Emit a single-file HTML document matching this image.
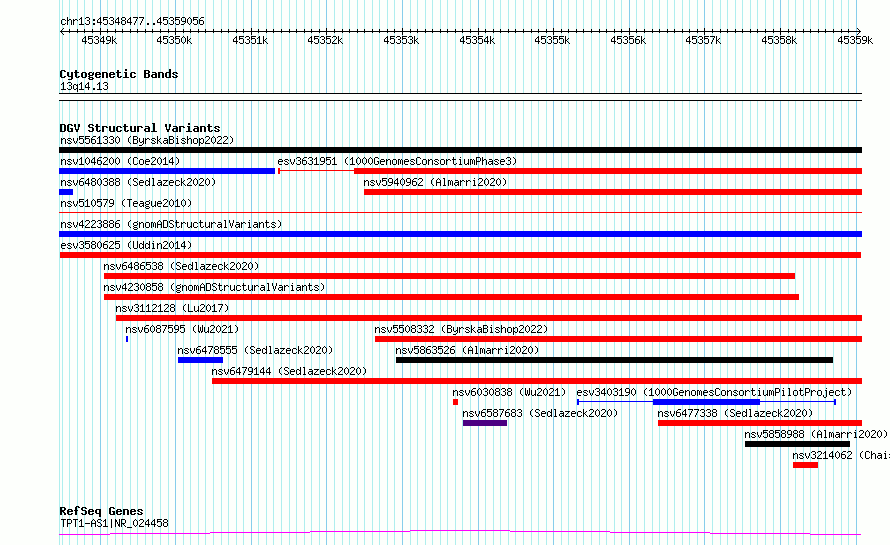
<!DOCTYPE html>
<html lang="en"><head><meta charset="utf-8"><title>chr13:45348477..45359056</title>
<style>
html,body{margin:0;padding:0;background:#fdfffc}
#panel{position:relative;width:890px;height:545px;overflow:hidden;background:#fdfffc}
#panel svg{position:absolute;left:0;top:0;display:block}
.t{position:absolute;white-space:pre;height:13px;line-height:13px;font-family:"Liberation Mono",monospace;font-size:10px;letter-spacing:0;color:transparent;overflow:hidden}
.t.b{font-size:11.66px;font-weight:bold}
</style></head><body>
<div id="panel">
<svg width="890" height="545" viewBox="0 0 890 545" shape-rendering="crispEdges">
<defs>
<path id="s40" d="M3 3h1v1h-1zM2 4h1v1h-1zM1 5h1v1h-1zM1 6h1v1h-1zM1 7h1v1h-1zM1 8h1v1h-1zM2 9h1v1h-1zM3 10h1v1h-1z"/>
<path id="s41" d="M1 3h1v1h-1zM2 4h1v1h-1zM3 5h1v1h-1zM3 6h1v1h-1zM3 7h1v1h-1zM3 8h1v1h-1zM2 9h1v1h-1zM1 10h1v1h-1z"/>
<path id="s45" d="M0 7h5v1h-5z"/>
<path id="s46" d="M2 9h2v1h-2zM2 10h2v1h-2z"/>
<path id="s48" d="M2 3h1v1h-1zM1 4h1v1h-1zM3 4h1v1h-1zM0 5h1v1h-1zM4 5h1v1h-1zM0 6h1v1h-1zM4 6h1v1h-1zM0 7h1v1h-1zM4 7h1v1h-1zM0 8h1v1h-1zM4 8h1v1h-1zM1 9h1v1h-1zM3 9h1v1h-1zM2 10h1v1h-1z"/>
<path id="s49" d="M2 3h1v1h-1zM1 4h2v1h-2zM0 5h1v1h-1zM2 5h1v1h-1zM2 6h1v1h-1zM2 7h1v1h-1zM2 8h1v1h-1zM2 9h1v1h-1zM0 10h5v1h-5z"/>
<path id="s50" d="M1 3h3v1h-3zM0 4h1v1h-1zM4 4h1v1h-1zM4 5h1v1h-1zM3 6h1v1h-1zM2 7h1v1h-1zM1 8h1v1h-1zM0 9h1v1h-1zM0 10h5v1h-5z"/>
<path id="s51" d="M1 3h3v1h-3zM0 4h1v1h-1zM4 4h1v1h-1zM4 5h1v1h-1zM2 6h2v1h-2zM4 7h1v1h-1zM4 8h1v1h-1zM0 9h1v1h-1zM4 9h1v1h-1zM1 10h3v1h-3z"/>
<path id="s52" d="M3 3h1v1h-1zM2 4h2v1h-2zM1 5h1v1h-1zM3 5h1v1h-1zM0 6h1v1h-1zM3 6h1v1h-1zM0 7h1v1h-1zM3 7h1v1h-1zM0 8h5v1h-5zM3 9h1v1h-1zM3 10h1v1h-1z"/>
<path id="s53" d="M0 3h5v1h-5zM0 4h1v1h-1zM0 5h4v1h-4zM0 6h1v1h-1zM4 6h1v1h-1zM4 7h1v1h-1zM4 8h1v1h-1zM0 9h1v1h-1zM4 9h1v1h-1zM1 10h3v1h-3z"/>
<path id="s54" d="M2 3h3v1h-3zM1 4h1v1h-1zM0 5h1v1h-1zM0 6h4v1h-4zM0 7h1v1h-1zM4 7h1v1h-1zM0 8h1v1h-1zM4 8h1v1h-1zM0 9h1v1h-1zM4 9h1v1h-1zM1 10h3v1h-3z"/>
<path id="s55" d="M0 3h5v1h-5zM4 4h1v1h-1zM3 5h1v1h-1zM3 6h1v1h-1zM2 7h1v1h-1zM2 8h1v1h-1zM1 9h1v1h-1zM1 10h1v1h-1z"/>
<path id="s56" d="M1 3h3v1h-3zM0 4h1v1h-1zM4 4h1v1h-1zM0 5h1v1h-1zM4 5h1v1h-1zM1 6h3v1h-3zM0 7h1v1h-1zM4 7h1v1h-1zM0 8h1v1h-1zM4 8h1v1h-1zM0 9h1v1h-1zM4 9h1v1h-1zM1 10h3v1h-3z"/>
<path id="s57" d="M1 3h3v1h-3zM0 4h1v1h-1zM4 4h1v1h-1zM0 5h1v1h-1zM4 5h1v1h-1zM0 6h1v1h-1zM4 6h1v1h-1zM1 7h4v1h-4zM4 8h1v1h-1zM3 9h1v1h-1zM0 10h3v1h-3z"/>
<path id="s58" d="M2 5h2v1h-2zM2 6h2v1h-2zM2 9h2v1h-2zM2 10h2v1h-2z"/>
<path id="s65" d="M2 3h1v1h-1zM1 4h1v1h-1zM3 4h1v1h-1zM0 5h1v1h-1zM4 5h1v1h-1zM0 6h1v1h-1zM4 6h1v1h-1zM0 7h5v1h-5zM0 8h1v1h-1zM4 8h1v1h-1zM0 9h1v1h-1zM4 9h1v1h-1zM0 10h1v1h-1zM4 10h1v1h-1z"/>
<path id="s66" d="M0 3h4v1h-4zM0 4h1v1h-1zM4 4h1v1h-1zM0 5h1v1h-1zM4 5h1v1h-1zM0 6h4v1h-4zM0 7h1v1h-1zM4 7h1v1h-1zM0 8h1v1h-1zM4 8h1v1h-1zM0 9h1v1h-1zM4 9h1v1h-1zM0 10h4v1h-4z"/>
<path id="s67" d="M1 3h3v1h-3zM0 4h1v1h-1zM4 4h1v1h-1zM0 5h1v1h-1zM0 6h1v1h-1zM0 7h1v1h-1zM0 8h1v1h-1zM0 9h1v1h-1zM4 9h1v1h-1zM1 10h3v1h-3z"/>
<path id="s68" d="M0 3h4v1h-4zM0 4h1v1h-1zM4 4h1v1h-1zM0 5h1v1h-1zM4 5h1v1h-1zM0 6h1v1h-1zM4 6h1v1h-1zM0 7h1v1h-1zM4 7h1v1h-1zM0 8h1v1h-1zM4 8h1v1h-1zM0 9h1v1h-1zM4 9h1v1h-1zM0 10h4v1h-4z"/>
<path id="s71" d="M1 3h3v1h-3zM0 4h1v1h-1zM4 4h1v1h-1zM0 5h1v1h-1zM0 6h1v1h-1zM0 7h1v1h-1zM3 7h2v1h-2zM0 8h1v1h-1zM4 8h1v1h-1zM0 9h1v1h-1zM4 9h1v1h-1zM1 10h3v1h-3z"/>
<path id="s76" d="M0 3h1v1h-1zM0 4h1v1h-1zM0 5h1v1h-1zM0 6h1v1h-1zM0 7h1v1h-1zM0 8h1v1h-1zM0 9h1v1h-1zM0 10h5v1h-5z"/>
<path id="s78" d="M0 3h1v1h-1zM4 3h1v1h-1zM0 4h2v1h-2zM4 4h1v1h-1zM0 5h2v1h-2zM4 5h1v1h-1zM0 6h1v1h-1zM2 6h1v1h-1zM4 6h1v1h-1zM0 7h1v1h-1zM2 7h1v1h-1zM4 7h1v1h-1zM0 8h1v1h-1zM3 8h2v1h-2zM0 9h1v1h-1zM3 9h2v1h-2zM0 10h1v1h-1zM4 10h1v1h-1z"/>
<path id="s80" d="M0 3h4v1h-4zM0 4h1v1h-1zM4 4h1v1h-1zM0 5h1v1h-1zM4 5h1v1h-1zM0 6h1v1h-1zM4 6h1v1h-1zM0 7h4v1h-4zM0 8h1v1h-1zM0 9h1v1h-1zM0 10h1v1h-1z"/>
<path id="s82" d="M0 3h4v1h-4zM0 4h1v1h-1zM4 4h1v1h-1zM0 5h1v1h-1zM4 5h1v1h-1zM0 6h1v1h-1zM4 6h1v1h-1zM0 7h4v1h-4zM0 8h1v1h-1zM2 8h1v1h-1zM0 9h1v1h-1zM3 9h1v1h-1zM0 10h1v1h-1zM4 10h1v1h-1z"/>
<path id="s83" d="M1 3h3v1h-3zM0 4h1v1h-1zM4 4h1v1h-1zM0 5h1v1h-1zM1 6h2v1h-2zM3 7h1v1h-1zM4 8h1v1h-1zM0 9h1v1h-1zM4 9h1v1h-1zM1 10h3v1h-3z"/>
<path id="s84" d="M0 3h5v1h-5zM2 4h1v1h-1zM2 5h1v1h-1zM2 6h1v1h-1zM2 7h1v1h-1zM2 8h1v1h-1zM2 9h1v1h-1zM2 10h1v1h-1z"/>
<path id="s85" d="M0 3h1v1h-1zM4 3h1v1h-1zM0 4h1v1h-1zM4 4h1v1h-1zM0 5h1v1h-1zM4 5h1v1h-1zM0 6h1v1h-1zM4 6h1v1h-1zM0 7h1v1h-1zM4 7h1v1h-1zM0 8h1v1h-1zM4 8h1v1h-1zM0 9h1v1h-1zM4 9h1v1h-1zM1 10h3v1h-3z"/>
<path id="s86" d="M0 3h1v1h-1zM4 3h1v1h-1zM0 4h1v1h-1zM4 4h1v1h-1zM0 5h1v1h-1zM4 5h1v1h-1zM1 6h1v1h-1zM3 6h1v1h-1zM1 7h1v1h-1zM3 7h1v1h-1zM1 8h1v1h-1zM3 8h1v1h-1zM2 9h1v1h-1zM2 10h1v1h-1z"/>
<path id="s87" d="M0 3h1v1h-1zM4 3h1v1h-1zM0 4h1v1h-1zM4 4h1v1h-1zM0 5h1v1h-1zM2 5h1v1h-1zM4 5h1v1h-1zM0 6h1v1h-1zM2 6h1v1h-1zM4 6h1v1h-1zM0 7h1v1h-1zM2 7h1v1h-1zM4 7h1v1h-1zM0 8h1v1h-1zM2 8h1v1h-1zM4 8h1v1h-1zM0 9h2v1h-2zM3 9h2v1h-2zM1 10h1v1h-1zM3 10h1v1h-1z"/>
<path id="s95" d="M0 11h5v1h-5z"/>
<path id="s97" d="M1 5h3v1h-3zM4 6h1v1h-1zM1 7h4v1h-4zM0 8h1v1h-1zM4 8h1v1h-1zM0 9h1v1h-1zM3 9h2v1h-2zM1 10h2v1h-2zM4 10h1v1h-1z"/>
<path id="s99" d="M1 5h3v1h-3zM0 6h1v1h-1zM4 6h1v1h-1zM0 7h1v1h-1zM0 8h1v1h-1zM0 9h1v1h-1zM4 9h1v1h-1zM1 10h3v1h-3z"/>
<path id="s100" d="M4 3h1v1h-1zM4 4h1v1h-1zM1 5h2v1h-2zM4 5h1v1h-1zM0 6h1v1h-1zM3 6h2v1h-2zM0 7h1v1h-1zM4 7h1v1h-1zM0 8h1v1h-1zM4 8h1v1h-1zM0 9h1v1h-1zM3 9h2v1h-2zM1 10h2v1h-2zM4 10h1v1h-1z"/>
<path id="s101" d="M1 5h3v1h-3zM0 6h1v1h-1zM4 6h1v1h-1zM0 7h5v1h-5zM0 8h1v1h-1zM0 9h1v1h-1zM1 10h3v1h-3z"/>
<path id="s103" d="M4 4h1v1h-1zM1 5h3v1h-3zM0 6h1v1h-1zM4 6h1v1h-1zM0 7h1v1h-1zM4 7h1v1h-1zM1 8h3v1h-3zM0 9h1v1h-1zM1 10h3v1h-3zM0 11h1v1h-1zM4 11h1v1h-1zM1 12h3v1h-3z"/>
<path id="s104" d="M0 3h1v1h-1zM0 4h1v1h-1zM0 5h1v1h-1zM2 5h2v1h-2zM0 6h2v1h-2zM4 6h1v1h-1zM0 7h1v1h-1zM4 7h1v1h-1zM0 8h1v1h-1zM4 8h1v1h-1zM0 9h1v1h-1zM4 9h1v1h-1zM0 10h1v1h-1zM4 10h1v1h-1z"/>
<path id="s105" d="M2 3h1v1h-1zM1 5h2v1h-2zM2 6h1v1h-1zM2 7h1v1h-1zM2 8h1v1h-1zM2 9h1v1h-1zM1 10h3v1h-3z"/>
<path id="s106" d="M3 3h1v1h-1zM2 5h2v1h-2zM3 6h1v1h-1zM3 7h1v1h-1zM3 8h1v1h-1zM3 9h1v1h-1zM0 10h1v1h-1zM3 10h1v1h-1zM0 11h1v1h-1zM3 11h1v1h-1zM1 12h2v1h-2z"/>
<path id="s107" d="M0 3h1v1h-1zM0 4h1v1h-1zM0 5h1v1h-1zM3 5h1v1h-1zM0 6h1v1h-1zM2 6h1v1h-1zM0 7h2v1h-2zM0 8h1v1h-1zM2 8h1v1h-1zM0 9h1v1h-1zM3 9h1v1h-1zM0 10h1v1h-1zM4 10h1v1h-1z"/>
<path id="s108" d="M1 3h2v1h-2zM2 4h1v1h-1zM2 5h1v1h-1zM2 6h1v1h-1zM2 7h1v1h-1zM2 8h1v1h-1zM2 9h1v1h-1zM1 10h3v1h-3z"/>
<path id="s109" d="M0 5h2v1h-2zM3 5h1v1h-1zM0 6h1v1h-1zM2 6h1v1h-1zM4 6h1v1h-1zM0 7h1v1h-1zM2 7h1v1h-1zM4 7h1v1h-1zM0 8h1v1h-1zM2 8h1v1h-1zM4 8h1v1h-1zM0 9h1v1h-1zM2 9h1v1h-1zM4 9h1v1h-1zM0 10h1v1h-1zM4 10h1v1h-1z"/>
<path id="s110" d="M0 5h1v1h-1zM2 5h2v1h-2zM0 6h2v1h-2zM4 6h1v1h-1zM0 7h1v1h-1zM4 7h1v1h-1zM0 8h1v1h-1zM4 8h1v1h-1zM0 9h1v1h-1zM4 9h1v1h-1zM0 10h1v1h-1zM4 10h1v1h-1z"/>
<path id="s111" d="M1 5h3v1h-3zM0 6h1v1h-1zM4 6h1v1h-1zM0 7h1v1h-1zM4 7h1v1h-1zM0 8h1v1h-1zM4 8h1v1h-1zM0 9h1v1h-1zM4 9h1v1h-1zM1 10h3v1h-3z"/>
<path id="s112" d="M0 5h1v1h-1zM2 5h2v1h-2zM0 6h2v1h-2zM4 6h1v1h-1zM0 7h1v1h-1zM4 7h1v1h-1zM0 8h1v1h-1zM4 8h1v1h-1zM0 9h2v1h-2zM4 9h1v1h-1zM0 10h1v1h-1zM2 10h2v1h-2zM0 11h1v1h-1zM0 12h1v1h-1z"/>
<path id="s113" d="M1 5h2v1h-2zM4 5h1v1h-1zM0 6h1v1h-1zM3 6h2v1h-2zM0 7h1v1h-1zM4 7h1v1h-1zM0 8h1v1h-1zM4 8h1v1h-1zM0 9h1v1h-1zM3 9h2v1h-2zM1 10h2v1h-2zM4 10h1v1h-1zM4 11h1v1h-1zM4 12h1v1h-1z"/>
<path id="s114" d="M0 5h1v1h-1zM2 5h2v1h-2zM0 6h2v1h-2zM4 6h1v1h-1zM0 7h1v1h-1zM0 8h1v1h-1zM0 9h1v1h-1zM0 10h1v1h-1z"/>
<path id="s115" d="M1 5h3v1h-3zM0 6h1v1h-1zM4 6h1v1h-1zM1 7h2v1h-2zM3 8h1v1h-1zM0 9h1v1h-1zM4 9h1v1h-1zM1 10h3v1h-3z"/>
<path id="s116" d="M1 3h1v1h-1zM1 4h1v1h-1zM0 5h4v1h-4zM1 6h1v1h-1zM1 7h1v1h-1zM1 8h1v1h-1zM1 9h1v1h-1zM4 9h1v1h-1zM2 10h2v1h-2z"/>
<path id="s117" d="M0 5h1v1h-1zM4 5h1v1h-1zM0 6h1v1h-1zM4 6h1v1h-1zM0 7h1v1h-1zM4 7h1v1h-1zM0 8h1v1h-1zM4 8h1v1h-1zM0 9h1v1h-1zM3 9h2v1h-2zM1 10h2v1h-2zM4 10h1v1h-1z"/>
<path id="s118" d="M0 5h1v1h-1zM4 5h1v1h-1zM0 6h1v1h-1zM4 6h1v1h-1zM0 7h1v1h-1zM4 7h1v1h-1zM1 8h1v1h-1zM3 8h1v1h-1zM1 9h1v1h-1zM3 9h1v1h-1zM2 10h1v1h-1z"/>
<path id="s121" d="M0 5h1v1h-1zM4 5h1v1h-1zM0 6h1v1h-1zM4 6h1v1h-1zM0 7h1v1h-1zM4 7h1v1h-1zM0 8h1v1h-1zM3 8h2v1h-2zM1 9h2v1h-2zM4 9h1v1h-1zM4 10h1v1h-1zM3 11h1v1h-1zM0 12h3v1h-3z"/>
<path id="s122" d="M0 5h5v1h-5zM3 6h1v1h-1zM2 7h1v1h-1zM1 8h1v1h-1zM0 9h1v1h-1zM0 10h5v1h-5z"/>
<path id="s124" d="M2 3h1v1h-1zM2 4h1v1h-1zM2 5h1v1h-1zM2 6h1v1h-1zM2 7h1v1h-1zM2 8h1v1h-1zM2 9h1v1h-1zM2 10h1v1h-1zM2 11h1v1h-1z"/>
<path id="b66" d="M0 3h5v1h-5zM0 4h2v1h-2zM4 4h2v1h-2zM0 5h2v1h-2zM4 5h2v1h-2zM0 6h5v1h-5zM0 7h2v1h-2zM4 7h2v1h-2zM0 8h2v1h-2zM4 8h2v1h-2zM0 9h2v1h-2zM4 9h2v1h-2zM0 10h5v1h-5z"/>
<path id="b67" d="M1 3h4v1h-4zM0 4h2v1h-2zM4 4h2v1h-2zM0 5h2v1h-2zM0 6h2v1h-2zM0 7h2v1h-2zM0 8h2v1h-2zM0 9h2v1h-2zM4 9h2v1h-2zM1 10h4v1h-4z"/>
<path id="b68" d="M0 3h5v1h-5zM0 4h2v1h-2zM4 4h2v1h-2zM0 5h2v1h-2zM4 5h2v1h-2zM0 6h2v1h-2zM4 6h2v1h-2zM0 7h2v1h-2zM4 7h2v1h-2zM0 8h2v1h-2zM4 8h2v1h-2zM0 9h2v1h-2zM4 9h2v1h-2zM0 10h5v1h-5z"/>
<path id="b71" d="M1 3h4v1h-4zM0 4h2v1h-2zM4 4h2v1h-2zM0 5h2v1h-2zM0 6h2v1h-2zM0 7h2v1h-2zM3 7h3v1h-3zM0 8h2v1h-2zM4 8h2v1h-2zM0 9h2v1h-2zM4 9h2v1h-2zM1 10h5v1h-5z"/>
<path id="b82" d="M0 3h5v1h-5zM0 4h2v1h-2zM4 4h2v1h-2zM0 5h2v1h-2zM4 5h2v1h-2zM0 6h5v1h-5zM0 7h4v1h-4zM0 8h2v1h-2zM3 8h2v1h-2zM0 9h2v1h-2zM4 9h2v1h-2zM0 10h2v1h-2zM4 10h2v1h-2z"/>
<path id="b83" d="M1 3h4v1h-4zM0 4h2v1h-2zM4 4h2v1h-2zM0 5h2v1h-2zM1 6h4v1h-4zM4 7h2v1h-2zM4 8h2v1h-2zM0 9h2v1h-2zM4 9h2v1h-2zM1 10h4v1h-4z"/>
<path id="b86" d="M0 3h2v1h-2zM4 3h2v1h-2zM0 4h2v1h-2zM4 4h2v1h-2zM0 5h2v1h-2zM4 5h2v1h-2zM1 6h1v1h-1zM4 6h1v1h-1zM1 7h1v1h-1zM4 7h1v1h-1zM1 8h4v1h-4zM2 9h2v1h-2zM2 10h2v1h-2z"/>
<path id="b97" d="M1 5h4v1h-4zM4 6h2v1h-2zM1 7h5v1h-5zM0 8h2v1h-2zM4 8h2v1h-2zM0 9h2v1h-2zM4 9h2v1h-2zM1 10h5v1h-5z"/>
<path id="b99" d="M1 5h4v1h-4zM0 6h2v1h-2zM4 6h2v1h-2zM0 7h2v1h-2zM0 8h2v1h-2zM0 9h2v1h-2zM4 9h2v1h-2zM1 10h4v1h-4z"/>
<path id="b100" d="M4 2h2v1h-2zM4 3h2v1h-2zM4 4h2v1h-2zM1 5h5v1h-5zM0 6h2v1h-2zM4 6h2v1h-2zM0 7h2v1h-2zM4 7h2v1h-2zM0 8h2v1h-2zM4 8h2v1h-2zM0 9h2v1h-2zM4 9h2v1h-2zM1 10h5v1h-5z"/>
<path id="b101" d="M1 5h4v1h-4zM0 6h2v1h-2zM4 6h2v1h-2zM0 7h6v1h-6zM0 8h2v1h-2zM0 9h2v1h-2zM4 9h2v1h-2zM1 10h4v1h-4z"/>
<path id="b102" d="M2 2h3v1h-3zM1 3h2v1h-2zM4 3h2v1h-2zM1 4h2v1h-2zM1 5h2v1h-2zM0 6h4v1h-4zM1 7h2v1h-2zM1 8h2v1h-2zM1 9h2v1h-2zM1 10h2v1h-2z"/>
<path id="b103" d="M1 5h3v1h-3zM5 5h1v1h-1zM0 6h2v1h-2zM4 6h2v1h-2zM0 7h2v1h-2zM4 7h2v1h-2zM1 8h4v1h-4zM0 9h2v1h-2zM1 10h4v1h-4zM0 11h2v1h-2zM4 11h2v1h-2zM1 12h4v1h-4z"/>
<path id="b105" d="M2 2h2v1h-2zM2 3h2v1h-2zM1 5h3v1h-3zM2 6h2v1h-2zM2 7h2v1h-2zM2 8h2v1h-2zM2 9h2v1h-2zM0 10h6v1h-6z"/>
<path id="b108" d="M1 2h3v1h-3zM2 3h2v1h-2zM2 4h2v1h-2zM2 5h2v1h-2zM2 6h2v1h-2zM2 7h2v1h-2zM2 8h2v1h-2zM2 9h2v1h-2zM0 10h6v1h-6z"/>
<path id="b110" d="M0 5h5v1h-5zM0 6h2v1h-2zM4 6h2v1h-2zM0 7h2v1h-2zM4 7h2v1h-2zM0 8h2v1h-2zM4 8h2v1h-2zM0 9h2v1h-2zM4 9h2v1h-2zM0 10h2v1h-2zM4 10h2v1h-2z"/>
<path id="b111" d="M1 5h4v1h-4zM0 6h2v1h-2zM4 6h2v1h-2zM0 7h2v1h-2zM4 7h2v1h-2zM0 8h2v1h-2zM4 8h2v1h-2zM0 9h2v1h-2zM4 9h2v1h-2zM1 10h4v1h-4z"/>
<path id="b113" d="M1 5h5v1h-5zM0 6h2v1h-2zM4 6h2v1h-2zM0 7h2v1h-2zM4 7h2v1h-2zM0 8h2v1h-2zM4 8h2v1h-2zM1 9h5v1h-5zM4 10h2v1h-2zM4 11h2v1h-2zM4 12h2v1h-2z"/>
<path id="b114" d="M0 5h5v1h-5zM0 6h2v1h-2zM4 6h2v1h-2zM0 7h2v1h-2zM0 8h2v1h-2zM0 9h2v1h-2zM0 10h2v1h-2z"/>
<path id="b115" d="M1 5h4v1h-4zM0 6h2v1h-2zM4 6h2v1h-2zM1 7h2v1h-2zM3 8h2v1h-2zM0 9h2v1h-2zM4 9h2v1h-2zM1 10h4v1h-4z"/>
<path id="b116" d="M1 3h2v1h-2zM1 4h2v1h-2zM0 5h5v1h-5zM1 6h2v1h-2zM1 7h2v1h-2zM1 8h2v1h-2zM1 9h2v1h-2zM4 9h2v1h-2zM2 10h3v1h-3z"/>
<path id="b117" d="M0 5h2v1h-2zM4 5h2v1h-2zM0 6h2v1h-2zM4 6h2v1h-2zM0 7h2v1h-2zM4 7h2v1h-2zM0 8h2v1h-2zM4 8h2v1h-2zM0 9h2v1h-2zM4 9h2v1h-2zM1 10h5v1h-5z"/>
<path id="b121" d="M0 5h2v1h-2zM4 5h2v1h-2zM0 6h2v1h-2zM4 6h2v1h-2zM0 7h2v1h-2zM4 7h2v1h-2zM0 8h2v1h-2zM4 8h2v1h-2zM1 9h5v1h-5zM4 10h2v1h-2zM4 11h2v1h-2zM1 12h4v1h-4z"/>
</defs>
<rect width="890" height="545" fill="#fdfffc"/>
<path fill="#afeeee" d="M59 0h1v545h-1zM62 0h1v545h-1zM69 0h1v545h-1zM77 0h1v545h-1zM84 0h1v545h-1zM92 0h1v545h-1zM107 0h1v545h-1zM115 0h1v545h-1zM122 0h1v545h-1zM130 0h1v545h-1zM137 0h1v545h-1zM145 0h1v545h-1zM152 0h1v545h-1zM160 0h1v545h-1zM168 0h1v545h-1zM183 0h1v545h-1zM190 0h1v545h-1zM198 0h1v545h-1zM205 0h1v545h-1zM213 0h1v545h-1zM221 0h1v545h-1zM228 0h1v545h-1zM236 0h1v545h-1zM243 0h1v545h-1zM258 0h1v545h-1zM266 0h1v545h-1zM273 0h1v545h-1zM281 0h1v545h-1zM289 0h1v545h-1zM296 0h1v545h-1zM304 0h1v545h-1zM311 0h1v545h-1zM319 0h1v545h-1zM334 0h1v545h-1zM342 0h1v545h-1zM349 0h1v545h-1zM357 0h1v545h-1zM364 0h1v545h-1zM372 0h1v545h-1zM379 0h1v545h-1zM387 0h1v545h-1zM394 0h1v545h-1zM410 0h1v545h-1zM417 0h1v545h-1zM425 0h1v545h-1zM432 0h1v545h-1zM440 0h1v545h-1zM447 0h1v545h-1zM455 0h1v545h-1zM462 0h1v545h-1zM470 0h1v545h-1zM485 0h1v545h-1zM493 0h1v545h-1zM500 0h1v545h-1zM508 0h1v545h-1zM515 0h1v545h-1zM523 0h1v545h-1zM531 0h1v545h-1zM538 0h1v545h-1zM546 0h1v545h-1zM561 0h1v545h-1zM568 0h1v545h-1zM576 0h1v545h-1zM583 0h1v545h-1zM591 0h1v545h-1zM599 0h1v545h-1zM606 0h1v545h-1zM614 0h1v545h-1zM621 0h1v545h-1zM636 0h1v545h-1zM644 0h1v545h-1zM652 0h1v545h-1zM659 0h1v545h-1zM667 0h1v545h-1zM674 0h1v545h-1zM682 0h1v545h-1zM689 0h1v545h-1zM697 0h1v545h-1zM712 0h1v545h-1zM720 0h1v545h-1zM727 0h1v545h-1zM735 0h1v545h-1zM742 0h1v545h-1zM750 0h1v545h-1zM757 0h1v545h-1zM765 0h1v545h-1zM773 0h1v545h-1zM788 0h1v545h-1zM795 0h1v545h-1zM803 0h1v545h-1zM810 0h1v545h-1zM818 0h1v545h-1zM825 0h1v545h-1zM833 0h1v545h-1zM841 0h1v545h-1zM848 0h1v545h-1z"/><path fill="#87ceeb" d="M100 0h1v545h-1zM175 0h1v545h-1zM251 0h1v545h-1zM326 0h1v545h-1zM402 0h1v545h-1zM478 0h1v545h-1zM553 0h1v545h-1zM629 0h1v545h-1zM704 0h1v545h-1zM780 0h1v545h-1zM856 0h1v545h-1z"/>
<rect x="60" y="31" width="801" height="1" fill="#000000"/>
<path fill="#000" d="M69 29h1v4h-1zM77 29h1v4h-1zM84 29h1v4h-1zM92 29h1v4h-1zM107 29h1v4h-1zM115 29h1v4h-1zM122 29h1v4h-1zM130 29h1v4h-1zM137 29h1v4h-1zM145 29h1v4h-1zM152 29h1v4h-1zM160 29h1v4h-1zM168 29h1v4h-1zM183 29h1v4h-1zM190 29h1v4h-1zM198 29h1v4h-1zM205 29h1v4h-1zM213 29h1v4h-1zM221 29h1v4h-1zM228 29h1v4h-1zM236 29h1v4h-1zM243 29h1v4h-1zM258 29h1v4h-1zM266 29h1v4h-1zM273 29h1v4h-1zM281 29h1v4h-1zM289 29h1v4h-1zM296 29h1v4h-1zM304 29h1v4h-1zM311 29h1v4h-1zM319 29h1v4h-1zM334 29h1v4h-1zM342 29h1v4h-1zM349 29h1v4h-1zM357 29h1v4h-1zM364 29h1v4h-1zM372 29h1v4h-1zM379 29h1v4h-1zM387 29h1v4h-1zM394 29h1v4h-1zM410 29h1v4h-1zM417 29h1v4h-1zM425 29h1v4h-1zM432 29h1v4h-1zM440 29h1v4h-1zM447 29h1v4h-1zM455 29h1v4h-1zM462 29h1v4h-1zM470 29h1v4h-1zM485 29h1v4h-1zM493 29h1v4h-1zM500 29h1v4h-1zM508 29h1v4h-1zM515 29h1v4h-1zM523 29h1v4h-1zM531 29h1v4h-1zM538 29h1v4h-1zM546 29h1v4h-1zM561 29h1v4h-1zM568 29h1v4h-1zM576 29h1v4h-1zM583 29h1v4h-1zM591 29h1v4h-1zM599 29h1v4h-1zM606 29h1v4h-1zM614 29h1v4h-1zM621 29h1v4h-1zM636 29h1v4h-1zM644 29h1v4h-1zM652 29h1v4h-1zM659 29h1v4h-1zM667 29h1v4h-1zM674 29h1v4h-1zM682 29h1v4h-1zM689 29h1v4h-1zM697 29h1v4h-1zM712 29h1v4h-1zM720 29h1v4h-1zM727 29h1v4h-1zM735 29h1v4h-1zM742 29h1v4h-1zM750 29h1v4h-1zM757 29h1v4h-1zM765 29h1v4h-1zM773 29h1v4h-1zM788 29h1v4h-1zM795 29h1v4h-1zM803 29h1v4h-1zM810 29h1v4h-1zM818 29h1v4h-1zM825 29h1v4h-1zM833 29h1v4h-1zM841 29h1v4h-1zM848 29h1v4h-1zM100 28h1v7h-1zM175 28h1v7h-1zM251 28h1v7h-1zM326 28h1v7h-1zM402 28h1v7h-1zM478 28h1v7h-1zM553 28h1v7h-1zM629 28h1v7h-1zM704 28h1v7h-1zM780 28h1v7h-1zM61 30h1v1h-1zM61 32h1v1h-1zM62 29h1v1h-1zM62 33h1v1h-1zM63 28h1v1h-1zM63 34h1v1h-1zM859 30h1v1h-1zM859 32h1v1h-1zM858 29h1v1h-1zM858 33h1v1h-1zM857 28h1v1h-1zM857 34h1v1h-1z"/>
<rect x="59" y="93" width="803" height="8" fill="#000000"/>
<rect x="59" y="94" width="803" height="6" fill="#fdfffc"/>
<rect x="59" y="147" width="803" height="6" fill="#000000"/>
<rect x="59" y="168" width="216" height="6" fill="#0000ff"/>
<rect x="278" y="168" width="2" height="6" fill="#ff0000"/>
<rect x="278" y="170" width="76" height="1" fill="#ff0000"/>
<rect x="354" y="168" width="508" height="6" fill="#ff0000"/>
<rect x="59" y="189" width="14" height="6" fill="#0000ff"/>
<rect x="364" y="189" width="498" height="6" fill="#ff0000"/>
<rect x="59" y="212" width="803" height="1" fill="#ff0000"/>
<rect x="59" y="231" width="803" height="6" fill="#0000ff"/>
<rect x="60" y="252" width="801" height="6" fill="#ff0000"/>
<rect x="104" y="273" width="691" height="6" fill="#ff0000"/>
<rect x="104" y="294" width="695" height="6" fill="#ff0000"/>
<rect x="116" y="315" width="746" height="6" fill="#ff0000"/>
<rect x="126" y="336" width="2" height="6" fill="#0000ff"/>
<rect x="375" y="336" width="487" height="6" fill="#ff0000"/>
<rect x="178" y="357" width="45" height="6" fill="#0000ff"/>
<rect x="396" y="357" width="437" height="6" fill="#000000"/>
<rect x="212" y="378" width="650" height="6" fill="#ff0000"/>
<rect x="453" y="399" width="5" height="6" fill="#ff0000"/>
<rect x="577" y="399" width="2" height="6" fill="#0000ff"/>
<rect x="834" y="399" width="2" height="6" fill="#0000ff"/>
<rect x="577" y="401" width="259" height="1" fill="#0000ff"/>
<rect x="653" y="399" width="107" height="6" fill="#0000ff"/>
<rect x="463" y="420" width="44" height="6" fill="#4b0082"/>
<rect x="658" y="420" width="204" height="6" fill="#ff0000"/>
<rect x="745" y="441" width="105" height="6" fill="#000000"/>
<rect x="793" y="462" width="25" height="6" fill="#ff0000"/>
<path fill="#ff00ff" d="M59 534h51v1h-51zM110 533h100v1h-100zM210 532h100v1h-100zM310 531h100v1h-100zM410 530h100v1h-100zM510 531h100v1h-100zM610 532h100v1h-100zM710 533h100v1h-100zM810 534h51v1h-51z"/>
<g fill="#000">
<g><use href="#s99" x="61" y="14"/><use href="#s104" x="67" y="14"/><use href="#s114" x="73" y="14"/><use href="#s49" x="79" y="14"/><use href="#s51" x="85" y="14"/><use href="#s58" x="91" y="14"/><use href="#s52" x="97" y="14"/><use href="#s53" x="103" y="14"/><use href="#s51" x="109" y="14"/><use href="#s52" x="115" y="14"/><use href="#s56" x="121" y="14"/><use href="#s52" x="127" y="14"/><use href="#s55" x="133" y="14"/><use href="#s55" x="139" y="14"/><use href="#s46" x="145" y="14"/><use href="#s46" x="151" y="14"/><use href="#s52" x="157" y="14"/><use href="#s53" x="163" y="14"/><use href="#s51" x="169" y="14"/><use href="#s53" x="175" y="14"/><use href="#s57" x="181" y="14"/><use href="#s48" x="187" y="14"/><use href="#s53" x="193" y="14"/><use href="#s54" x="199" y="14"/></g>
<g><use href="#s52" x="82" y="33"/><use href="#s53" x="88" y="33"/><use href="#s51" x="94" y="33"/><use href="#s52" x="100" y="33"/><use href="#s57" x="106" y="33"/><use href="#s107" x="112" y="33"/></g>
<g><use href="#s52" x="157" y="33"/><use href="#s53" x="163" y="33"/><use href="#s51" x="169" y="33"/><use href="#s53" x="175" y="33"/><use href="#s48" x="181" y="33"/><use href="#s107" x="187" y="33"/></g>
<g><use href="#s52" x="233" y="33"/><use href="#s53" x="239" y="33"/><use href="#s51" x="245" y="33"/><use href="#s53" x="251" y="33"/><use href="#s49" x="257" y="33"/><use href="#s107" x="263" y="33"/></g>
<g><use href="#s52" x="308" y="33"/><use href="#s53" x="314" y="33"/><use href="#s51" x="320" y="33"/><use href="#s53" x="326" y="33"/><use href="#s50" x="332" y="33"/><use href="#s107" x="338" y="33"/></g>
<g><use href="#s52" x="384" y="33"/><use href="#s53" x="390" y="33"/><use href="#s51" x="396" y="33"/><use href="#s53" x="402" y="33"/><use href="#s51" x="408" y="33"/><use href="#s107" x="414" y="33"/></g>
<g><use href="#s52" x="460" y="33"/><use href="#s53" x="466" y="33"/><use href="#s51" x="472" y="33"/><use href="#s53" x="478" y="33"/><use href="#s52" x="484" y="33"/><use href="#s107" x="490" y="33"/></g>
<g><use href="#s52" x="535" y="33"/><use href="#s53" x="541" y="33"/><use href="#s51" x="547" y="33"/><use href="#s53" x="553" y="33"/><use href="#s53" x="559" y="33"/><use href="#s107" x="565" y="33"/></g>
<g><use href="#s52" x="611" y="33"/><use href="#s53" x="617" y="33"/><use href="#s51" x="623" y="33"/><use href="#s53" x="629" y="33"/><use href="#s54" x="635" y="33"/><use href="#s107" x="641" y="33"/></g>
<g><use href="#s52" x="686" y="33"/><use href="#s53" x="692" y="33"/><use href="#s51" x="698" y="33"/><use href="#s53" x="704" y="33"/><use href="#s55" x="710" y="33"/><use href="#s107" x="716" y="33"/></g>
<g><use href="#s52" x="762" y="33"/><use href="#s53" x="768" y="33"/><use href="#s51" x="774" y="33"/><use href="#s53" x="780" y="33"/><use href="#s56" x="786" y="33"/><use href="#s107" x="792" y="33"/></g>
<g><use href="#s52" x="838" y="33"/><use href="#s53" x="844" y="33"/><use href="#s51" x="850" y="33"/><use href="#s53" x="856" y="33"/><use href="#s57" x="862" y="33"/><use href="#s107" x="868" y="33"/></g>
<g><use href="#b67" x="60" y="67"/><use href="#b121" x="67" y="67"/><use href="#b116" x="74" y="67"/><use href="#b111" x="81" y="67"/><use href="#b103" x="88" y="67"/><use href="#b101" x="95" y="67"/><use href="#b110" x="102" y="67"/><use href="#b101" x="109" y="67"/><use href="#b116" x="116" y="67"/><use href="#b105" x="123" y="67"/><use href="#b99" x="130" y="67"/><use href="#b66" x="144" y="67"/><use href="#b97" x="151" y="67"/><use href="#b110" x="158" y="67"/><use href="#b100" x="165" y="67"/><use href="#b115" x="172" y="67"/></g>
<g><use href="#s49" x="61" y="79"/><use href="#s51" x="67" y="79"/><use href="#s113" x="73" y="79"/><use href="#s49" x="79" y="79"/><use href="#s52" x="85" y="79"/><use href="#s46" x="91" y="79"/><use href="#s49" x="97" y="79"/><use href="#s51" x="103" y="79"/></g>
<g><use href="#b68" x="60" y="121"/><use href="#b71" x="67" y="121"/><use href="#b86" x="74" y="121"/><use href="#b83" x="88" y="121"/><use href="#b116" x="95" y="121"/><use href="#b114" x="102" y="121"/><use href="#b117" x="109" y="121"/><use href="#b99" x="116" y="121"/><use href="#b116" x="123" y="121"/><use href="#b117" x="130" y="121"/><use href="#b114" x="137" y="121"/><use href="#b97" x="144" y="121"/><use href="#b108" x="151" y="121"/><use href="#b86" x="165" y="121"/><use href="#b97" x="172" y="121"/><use href="#b114" x="179" y="121"/><use href="#b105" x="186" y="121"/><use href="#b97" x="193" y="121"/><use href="#b110" x="200" y="121"/><use href="#b116" x="207" y="121"/><use href="#b115" x="214" y="121"/></g>
<g><use href="#s110" x="61" y="133"/><use href="#s115" x="67" y="133"/><use href="#s118" x="73" y="133"/><use href="#s53" x="79" y="133"/><use href="#s53" x="85" y="133"/><use href="#s54" x="91" y="133"/><use href="#s49" x="97" y="133"/><use href="#s51" x="103" y="133"/><use href="#s51" x="109" y="133"/><use href="#s48" x="115" y="133"/><use href="#s40" x="127" y="133"/><use href="#s66" x="133" y="133"/><use href="#s121" x="139" y="133"/><use href="#s114" x="145" y="133"/><use href="#s115" x="151" y="133"/><use href="#s107" x="157" y="133"/><use href="#s97" x="163" y="133"/><use href="#s66" x="169" y="133"/><use href="#s105" x="175" y="133"/><use href="#s115" x="181" y="133"/><use href="#s104" x="187" y="133"/><use href="#s111" x="193" y="133"/><use href="#s112" x="199" y="133"/><use href="#s50" x="205" y="133"/><use href="#s48" x="211" y="133"/><use href="#s50" x="217" y="133"/><use href="#s50" x="223" y="133"/><use href="#s41" x="229" y="133"/></g>
<g><use href="#s110" x="61" y="154"/><use href="#s115" x="67" y="154"/><use href="#s118" x="73" y="154"/><use href="#s49" x="79" y="154"/><use href="#s48" x="85" y="154"/><use href="#s52" x="91" y="154"/><use href="#s54" x="97" y="154"/><use href="#s50" x="103" y="154"/><use href="#s48" x="109" y="154"/><use href="#s48" x="115" y="154"/><use href="#s40" x="127" y="154"/><use href="#s67" x="133" y="154"/><use href="#s111" x="139" y="154"/><use href="#s101" x="145" y="154"/><use href="#s50" x="151" y="154"/><use href="#s48" x="157" y="154"/><use href="#s49" x="163" y="154"/><use href="#s52" x="169" y="154"/><use href="#s41" x="175" y="154"/></g>
<g><use href="#s101" x="278" y="154"/><use href="#s115" x="284" y="154"/><use href="#s118" x="290" y="154"/><use href="#s51" x="296" y="154"/><use href="#s54" x="302" y="154"/><use href="#s51" x="308" y="154"/><use href="#s49" x="314" y="154"/><use href="#s57" x="320" y="154"/><use href="#s53" x="326" y="154"/><use href="#s49" x="332" y="154"/><use href="#s40" x="344" y="154"/><use href="#s49" x="350" y="154"/><use href="#s48" x="356" y="154"/><use href="#s48" x="362" y="154"/><use href="#s48" x="368" y="154"/><use href="#s71" x="374" y="154"/><use href="#s101" x="380" y="154"/><use href="#s110" x="386" y="154"/><use href="#s111" x="392" y="154"/><use href="#s109" x="398" y="154"/><use href="#s101" x="404" y="154"/><use href="#s115" x="410" y="154"/><use href="#s67" x="416" y="154"/><use href="#s111" x="422" y="154"/><use href="#s110" x="428" y="154"/><use href="#s115" x="434" y="154"/><use href="#s111" x="440" y="154"/><use href="#s114" x="446" y="154"/><use href="#s116" x="452" y="154"/><use href="#s105" x="458" y="154"/><use href="#s117" x="464" y="154"/><use href="#s109" x="470" y="154"/><use href="#s80" x="476" y="154"/><use href="#s104" x="482" y="154"/><use href="#s97" x="488" y="154"/><use href="#s115" x="494" y="154"/><use href="#s101" x="500" y="154"/><use href="#s51" x="506" y="154"/><use href="#s41" x="512" y="154"/></g>
<g><use href="#s110" x="61" y="175"/><use href="#s115" x="67" y="175"/><use href="#s118" x="73" y="175"/><use href="#s54" x="79" y="175"/><use href="#s52" x="85" y="175"/><use href="#s56" x="91" y="175"/><use href="#s48" x="97" y="175"/><use href="#s51" x="103" y="175"/><use href="#s56" x="109" y="175"/><use href="#s56" x="115" y="175"/><use href="#s40" x="127" y="175"/><use href="#s83" x="133" y="175"/><use href="#s101" x="139" y="175"/><use href="#s100" x="145" y="175"/><use href="#s108" x="151" y="175"/><use href="#s97" x="157" y="175"/><use href="#s122" x="163" y="175"/><use href="#s101" x="169" y="175"/><use href="#s99" x="175" y="175"/><use href="#s107" x="181" y="175"/><use href="#s50" x="187" y="175"/><use href="#s48" x="193" y="175"/><use href="#s50" x="199" y="175"/><use href="#s48" x="205" y="175"/><use href="#s41" x="211" y="175"/></g>
<g><use href="#s110" x="364" y="175"/><use href="#s115" x="370" y="175"/><use href="#s118" x="376" y="175"/><use href="#s53" x="382" y="175"/><use href="#s57" x="388" y="175"/><use href="#s52" x="394" y="175"/><use href="#s48" x="400" y="175"/><use href="#s57" x="406" y="175"/><use href="#s54" x="412" y="175"/><use href="#s50" x="418" y="175"/><use href="#s40" x="430" y="175"/><use href="#s65" x="436" y="175"/><use href="#s108" x="442" y="175"/><use href="#s109" x="448" y="175"/><use href="#s97" x="454" y="175"/><use href="#s114" x="460" y="175"/><use href="#s114" x="466" y="175"/><use href="#s105" x="472" y="175"/><use href="#s50" x="478" y="175"/><use href="#s48" x="484" y="175"/><use href="#s50" x="490" y="175"/><use href="#s48" x="496" y="175"/><use href="#s41" x="502" y="175"/></g>
<g><use href="#s110" x="61" y="196"/><use href="#s115" x="67" y="196"/><use href="#s118" x="73" y="196"/><use href="#s53" x="79" y="196"/><use href="#s49" x="85" y="196"/><use href="#s48" x="91" y="196"/><use href="#s53" x="97" y="196"/><use href="#s55" x="103" y="196"/><use href="#s57" x="109" y="196"/><use href="#s40" x="121" y="196"/><use href="#s84" x="127" y="196"/><use href="#s101" x="133" y="196"/><use href="#s97" x="139" y="196"/><use href="#s103" x="145" y="196"/><use href="#s117" x="151" y="196"/><use href="#s101" x="157" y="196"/><use href="#s50" x="163" y="196"/><use href="#s48" x="169" y="196"/><use href="#s49" x="175" y="196"/><use href="#s48" x="181" y="196"/><use href="#s41" x="187" y="196"/></g>
<g><use href="#s110" x="61" y="217"/><use href="#s115" x="67" y="217"/><use href="#s118" x="73" y="217"/><use href="#s52" x="79" y="217"/><use href="#s50" x="85" y="217"/><use href="#s50" x="91" y="217"/><use href="#s51" x="97" y="217"/><use href="#s56" x="103" y="217"/><use href="#s56" x="109" y="217"/><use href="#s54" x="115" y="217"/><use href="#s40" x="127" y="217"/><use href="#s103" x="133" y="217"/><use href="#s110" x="139" y="217"/><use href="#s111" x="145" y="217"/><use href="#s109" x="151" y="217"/><use href="#s65" x="157" y="217"/><use href="#s68" x="163" y="217"/><use href="#s83" x="169" y="217"/><use href="#s116" x="175" y="217"/><use href="#s114" x="181" y="217"/><use href="#s117" x="187" y="217"/><use href="#s99" x="193" y="217"/><use href="#s116" x="199" y="217"/><use href="#s117" x="205" y="217"/><use href="#s114" x="211" y="217"/><use href="#s97" x="217" y="217"/><use href="#s108" x="223" y="217"/><use href="#s86" x="229" y="217"/><use href="#s97" x="235" y="217"/><use href="#s114" x="241" y="217"/><use href="#s105" x="247" y="217"/><use href="#s97" x="253" y="217"/><use href="#s110" x="259" y="217"/><use href="#s116" x="265" y="217"/><use href="#s115" x="271" y="217"/><use href="#s41" x="277" y="217"/></g>
<g><use href="#s101" x="61" y="238"/><use href="#s115" x="67" y="238"/><use href="#s118" x="73" y="238"/><use href="#s51" x="79" y="238"/><use href="#s53" x="85" y="238"/><use href="#s56" x="91" y="238"/><use href="#s48" x="97" y="238"/><use href="#s54" x="103" y="238"/><use href="#s50" x="109" y="238"/><use href="#s53" x="115" y="238"/><use href="#s40" x="127" y="238"/><use href="#s85" x="133" y="238"/><use href="#s100" x="139" y="238"/><use href="#s100" x="145" y="238"/><use href="#s105" x="151" y="238"/><use href="#s110" x="157" y="238"/><use href="#s50" x="163" y="238"/><use href="#s48" x="169" y="238"/><use href="#s49" x="175" y="238"/><use href="#s52" x="181" y="238"/><use href="#s41" x="187" y="238"/></g>
<g><use href="#s110" x="104" y="259"/><use href="#s115" x="110" y="259"/><use href="#s118" x="116" y="259"/><use href="#s54" x="122" y="259"/><use href="#s52" x="128" y="259"/><use href="#s56" x="134" y="259"/><use href="#s54" x="140" y="259"/><use href="#s53" x="146" y="259"/><use href="#s51" x="152" y="259"/><use href="#s56" x="158" y="259"/><use href="#s40" x="170" y="259"/><use href="#s83" x="176" y="259"/><use href="#s101" x="182" y="259"/><use href="#s100" x="188" y="259"/><use href="#s108" x="194" y="259"/><use href="#s97" x="200" y="259"/><use href="#s122" x="206" y="259"/><use href="#s101" x="212" y="259"/><use href="#s99" x="218" y="259"/><use href="#s107" x="224" y="259"/><use href="#s50" x="230" y="259"/><use href="#s48" x="236" y="259"/><use href="#s50" x="242" y="259"/><use href="#s48" x="248" y="259"/><use href="#s41" x="254" y="259"/></g>
<g><use href="#s110" x="104" y="280"/><use href="#s115" x="110" y="280"/><use href="#s118" x="116" y="280"/><use href="#s52" x="122" y="280"/><use href="#s50" x="128" y="280"/><use href="#s51" x="134" y="280"/><use href="#s48" x="140" y="280"/><use href="#s56" x="146" y="280"/><use href="#s53" x="152" y="280"/><use href="#s56" x="158" y="280"/><use href="#s40" x="170" y="280"/><use href="#s103" x="176" y="280"/><use href="#s110" x="182" y="280"/><use href="#s111" x="188" y="280"/><use href="#s109" x="194" y="280"/><use href="#s65" x="200" y="280"/><use href="#s68" x="206" y="280"/><use href="#s83" x="212" y="280"/><use href="#s116" x="218" y="280"/><use href="#s114" x="224" y="280"/><use href="#s117" x="230" y="280"/><use href="#s99" x="236" y="280"/><use href="#s116" x="242" y="280"/><use href="#s117" x="248" y="280"/><use href="#s114" x="254" y="280"/><use href="#s97" x="260" y="280"/><use href="#s108" x="266" y="280"/><use href="#s86" x="272" y="280"/><use href="#s97" x="278" y="280"/><use href="#s114" x="284" y="280"/><use href="#s105" x="290" y="280"/><use href="#s97" x="296" y="280"/><use href="#s110" x="302" y="280"/><use href="#s116" x="308" y="280"/><use href="#s115" x="314" y="280"/><use href="#s41" x="320" y="280"/></g>
<g><use href="#s110" x="116" y="301"/><use href="#s115" x="122" y="301"/><use href="#s118" x="128" y="301"/><use href="#s51" x="134" y="301"/><use href="#s49" x="140" y="301"/><use href="#s49" x="146" y="301"/><use href="#s50" x="152" y="301"/><use href="#s49" x="158" y="301"/><use href="#s50" x="164" y="301"/><use href="#s56" x="170" y="301"/><use href="#s40" x="182" y="301"/><use href="#s76" x="188" y="301"/><use href="#s117" x="194" y="301"/><use href="#s50" x="200" y="301"/><use href="#s48" x="206" y="301"/><use href="#s49" x="212" y="301"/><use href="#s55" x="218" y="301"/><use href="#s41" x="224" y="301"/></g>
<g><use href="#s110" x="126" y="322"/><use href="#s115" x="132" y="322"/><use href="#s118" x="138" y="322"/><use href="#s54" x="144" y="322"/><use href="#s48" x="150" y="322"/><use href="#s56" x="156" y="322"/><use href="#s55" x="162" y="322"/><use href="#s53" x="168" y="322"/><use href="#s57" x="174" y="322"/><use href="#s53" x="180" y="322"/><use href="#s40" x="192" y="322"/><use href="#s87" x="198" y="322"/><use href="#s117" x="204" y="322"/><use href="#s50" x="210" y="322"/><use href="#s48" x="216" y="322"/><use href="#s50" x="222" y="322"/><use href="#s49" x="228" y="322"/><use href="#s41" x="234" y="322"/></g>
<g><use href="#s110" x="375" y="322"/><use href="#s115" x="381" y="322"/><use href="#s118" x="387" y="322"/><use href="#s53" x="393" y="322"/><use href="#s53" x="399" y="322"/><use href="#s48" x="405" y="322"/><use href="#s56" x="411" y="322"/><use href="#s51" x="417" y="322"/><use href="#s51" x="423" y="322"/><use href="#s50" x="429" y="322"/><use href="#s40" x="441" y="322"/><use href="#s66" x="447" y="322"/><use href="#s121" x="453" y="322"/><use href="#s114" x="459" y="322"/><use href="#s115" x="465" y="322"/><use href="#s107" x="471" y="322"/><use href="#s97" x="477" y="322"/><use href="#s66" x="483" y="322"/><use href="#s105" x="489" y="322"/><use href="#s115" x="495" y="322"/><use href="#s104" x="501" y="322"/><use href="#s111" x="507" y="322"/><use href="#s112" x="513" y="322"/><use href="#s50" x="519" y="322"/><use href="#s48" x="525" y="322"/><use href="#s50" x="531" y="322"/><use href="#s50" x="537" y="322"/><use href="#s41" x="543" y="322"/></g>
<g><use href="#s110" x="178" y="343"/><use href="#s115" x="184" y="343"/><use href="#s118" x="190" y="343"/><use href="#s54" x="196" y="343"/><use href="#s52" x="202" y="343"/><use href="#s55" x="208" y="343"/><use href="#s56" x="214" y="343"/><use href="#s53" x="220" y="343"/><use href="#s53" x="226" y="343"/><use href="#s53" x="232" y="343"/><use href="#s40" x="244" y="343"/><use href="#s83" x="250" y="343"/><use href="#s101" x="256" y="343"/><use href="#s100" x="262" y="343"/><use href="#s108" x="268" y="343"/><use href="#s97" x="274" y="343"/><use href="#s122" x="280" y="343"/><use href="#s101" x="286" y="343"/><use href="#s99" x="292" y="343"/><use href="#s107" x="298" y="343"/><use href="#s50" x="304" y="343"/><use href="#s48" x="310" y="343"/><use href="#s50" x="316" y="343"/><use href="#s48" x="322" y="343"/><use href="#s41" x="328" y="343"/></g>
<g><use href="#s110" x="396" y="343"/><use href="#s115" x="402" y="343"/><use href="#s118" x="408" y="343"/><use href="#s53" x="414" y="343"/><use href="#s56" x="420" y="343"/><use href="#s54" x="426" y="343"/><use href="#s51" x="432" y="343"/><use href="#s53" x="438" y="343"/><use href="#s50" x="444" y="343"/><use href="#s54" x="450" y="343"/><use href="#s40" x="462" y="343"/><use href="#s65" x="468" y="343"/><use href="#s108" x="474" y="343"/><use href="#s109" x="480" y="343"/><use href="#s97" x="486" y="343"/><use href="#s114" x="492" y="343"/><use href="#s114" x="498" y="343"/><use href="#s105" x="504" y="343"/><use href="#s50" x="510" y="343"/><use href="#s48" x="516" y="343"/><use href="#s50" x="522" y="343"/><use href="#s48" x="528" y="343"/><use href="#s41" x="534" y="343"/></g>
<g><use href="#s110" x="212" y="364"/><use href="#s115" x="218" y="364"/><use href="#s118" x="224" y="364"/><use href="#s54" x="230" y="364"/><use href="#s52" x="236" y="364"/><use href="#s55" x="242" y="364"/><use href="#s57" x="248" y="364"/><use href="#s49" x="254" y="364"/><use href="#s52" x="260" y="364"/><use href="#s52" x="266" y="364"/><use href="#s40" x="278" y="364"/><use href="#s83" x="284" y="364"/><use href="#s101" x="290" y="364"/><use href="#s100" x="296" y="364"/><use href="#s108" x="302" y="364"/><use href="#s97" x="308" y="364"/><use href="#s122" x="314" y="364"/><use href="#s101" x="320" y="364"/><use href="#s99" x="326" y="364"/><use href="#s107" x="332" y="364"/><use href="#s50" x="338" y="364"/><use href="#s48" x="344" y="364"/><use href="#s50" x="350" y="364"/><use href="#s48" x="356" y="364"/><use href="#s41" x="362" y="364"/></g>
<g><use href="#s110" x="453" y="385"/><use href="#s115" x="459" y="385"/><use href="#s118" x="465" y="385"/><use href="#s54" x="471" y="385"/><use href="#s48" x="477" y="385"/><use href="#s51" x="483" y="385"/><use href="#s48" x="489" y="385"/><use href="#s56" x="495" y="385"/><use href="#s51" x="501" y="385"/><use href="#s56" x="507" y="385"/><use href="#s40" x="519" y="385"/><use href="#s87" x="525" y="385"/><use href="#s117" x="531" y="385"/><use href="#s50" x="537" y="385"/><use href="#s48" x="543" y="385"/><use href="#s50" x="549" y="385"/><use href="#s49" x="555" y="385"/><use href="#s41" x="561" y="385"/></g>
<g><use href="#s101" x="577" y="385"/><use href="#s115" x="583" y="385"/><use href="#s118" x="589" y="385"/><use href="#s51" x="595" y="385"/><use href="#s52" x="601" y="385"/><use href="#s48" x="607" y="385"/><use href="#s51" x="613" y="385"/><use href="#s49" x="619" y="385"/><use href="#s57" x="625" y="385"/><use href="#s48" x="631" y="385"/><use href="#s40" x="643" y="385"/><use href="#s49" x="649" y="385"/><use href="#s48" x="655" y="385"/><use href="#s48" x="661" y="385"/><use href="#s48" x="667" y="385"/><use href="#s71" x="673" y="385"/><use href="#s101" x="679" y="385"/><use href="#s110" x="685" y="385"/><use href="#s111" x="691" y="385"/><use href="#s109" x="697" y="385"/><use href="#s101" x="703" y="385"/><use href="#s115" x="709" y="385"/><use href="#s67" x="715" y="385"/><use href="#s111" x="721" y="385"/><use href="#s110" x="727" y="385"/><use href="#s115" x="733" y="385"/><use href="#s111" x="739" y="385"/><use href="#s114" x="745" y="385"/><use href="#s116" x="751" y="385"/><use href="#s105" x="757" y="385"/><use href="#s117" x="763" y="385"/><use href="#s109" x="769" y="385"/><use href="#s80" x="775" y="385"/><use href="#s105" x="781" y="385"/><use href="#s108" x="787" y="385"/><use href="#s111" x="793" y="385"/><use href="#s116" x="799" y="385"/><use href="#s80" x="805" y="385"/><use href="#s114" x="811" y="385"/><use href="#s111" x="817" y="385"/><use href="#s106" x="823" y="385"/><use href="#s101" x="829" y="385"/><use href="#s99" x="835" y="385"/><use href="#s116" x="841" y="385"/><use href="#s41" x="847" y="385"/></g>
<g><use href="#s110" x="463" y="406"/><use href="#s115" x="469" y="406"/><use href="#s118" x="475" y="406"/><use href="#s54" x="481" y="406"/><use href="#s53" x="487" y="406"/><use href="#s56" x="493" y="406"/><use href="#s55" x="499" y="406"/><use href="#s54" x="505" y="406"/><use href="#s56" x="511" y="406"/><use href="#s51" x="517" y="406"/><use href="#s40" x="529" y="406"/><use href="#s83" x="535" y="406"/><use href="#s101" x="541" y="406"/><use href="#s100" x="547" y="406"/><use href="#s108" x="553" y="406"/><use href="#s97" x="559" y="406"/><use href="#s122" x="565" y="406"/><use href="#s101" x="571" y="406"/><use href="#s99" x="577" y="406"/><use href="#s107" x="583" y="406"/><use href="#s50" x="589" y="406"/><use href="#s48" x="595" y="406"/><use href="#s50" x="601" y="406"/><use href="#s48" x="607" y="406"/><use href="#s41" x="613" y="406"/></g>
<g><use href="#s110" x="658" y="406"/><use href="#s115" x="664" y="406"/><use href="#s118" x="670" y="406"/><use href="#s54" x="676" y="406"/><use href="#s52" x="682" y="406"/><use href="#s55" x="688" y="406"/><use href="#s55" x="694" y="406"/><use href="#s51" x="700" y="406"/><use href="#s51" x="706" y="406"/><use href="#s56" x="712" y="406"/><use href="#s40" x="724" y="406"/><use href="#s83" x="730" y="406"/><use href="#s101" x="736" y="406"/><use href="#s100" x="742" y="406"/><use href="#s108" x="748" y="406"/><use href="#s97" x="754" y="406"/><use href="#s122" x="760" y="406"/><use href="#s101" x="766" y="406"/><use href="#s99" x="772" y="406"/><use href="#s107" x="778" y="406"/><use href="#s50" x="784" y="406"/><use href="#s48" x="790" y="406"/><use href="#s50" x="796" y="406"/><use href="#s48" x="802" y="406"/><use href="#s41" x="808" y="406"/></g>
<g><use href="#s110" x="745" y="427"/><use href="#s115" x="751" y="427"/><use href="#s118" x="757" y="427"/><use href="#s53" x="763" y="427"/><use href="#s56" x="769" y="427"/><use href="#s53" x="775" y="427"/><use href="#s56" x="781" y="427"/><use href="#s57" x="787" y="427"/><use href="#s56" x="793" y="427"/><use href="#s56" x="799" y="427"/><use href="#s40" x="811" y="427"/><use href="#s65" x="817" y="427"/><use href="#s108" x="823" y="427"/><use href="#s109" x="829" y="427"/><use href="#s97" x="835" y="427"/><use href="#s114" x="841" y="427"/><use href="#s114" x="847" y="427"/><use href="#s105" x="853" y="427"/><use href="#s50" x="859" y="427"/><use href="#s48" x="865" y="427"/><use href="#s50" x="871" y="427"/><use href="#s48" x="877" y="427"/><use href="#s41" x="883" y="427"/></g>
<g><use href="#s110" x="793" y="448"/><use href="#s115" x="799" y="448"/><use href="#s118" x="805" y="448"/><use href="#s51" x="811" y="448"/><use href="#s50" x="817" y="448"/><use href="#s49" x="823" y="448"/><use href="#s52" x="829" y="448"/><use href="#s48" x="835" y="448"/><use href="#s54" x="841" y="448"/><use href="#s50" x="847" y="448"/><use href="#s40" x="859" y="448"/><use href="#s67" x="865" y="448"/><use href="#s104" x="871" y="448"/><use href="#s97" x="877" y="448"/><use href="#s105" x="883" y="448"/><use href="#s115" x="889" y="448"/></g>
<g><use href="#b82" x="60" y="504"/><use href="#b101" x="67" y="504"/><use href="#b102" x="74" y="504"/><use href="#b83" x="81" y="504"/><use href="#b101" x="88" y="504"/><use href="#b113" x="95" y="504"/><use href="#b71" x="109" y="504"/><use href="#b101" x="116" y="504"/><use href="#b110" x="123" y="504"/><use href="#b101" x="130" y="504"/><use href="#b115" x="137" y="504"/></g>
<g><use href="#s84" x="61" y="516"/><use href="#s80" x="67" y="516"/><use href="#s84" x="73" y="516"/><use href="#s49" x="79" y="516"/><use href="#s45" x="85" y="516"/><use href="#s65" x="91" y="516"/><use href="#s83" x="97" y="516"/><use href="#s49" x="103" y="516"/><use href="#s124" x="109" y="516"/><use href="#s78" x="115" y="516"/><use href="#s82" x="121" y="516"/><use href="#s95" x="127" y="516"/><use href="#s48" x="133" y="516"/><use href="#s50" x="139" y="516"/><use href="#s52" x="145" y="516"/><use href="#s52" x="151" y="516"/><use href="#s53" x="157" y="516"/><use href="#s56" x="163" y="516"/></g>
</g>
</svg>
<div class="t" style="left:61px;top:14px">chr13:45348477..45359056</div>
<div class="t" style="left:82px;top:33px">45349k</div>
<div class="t" style="left:157px;top:33px">45350k</div>
<div class="t" style="left:233px;top:33px">45351k</div>
<div class="t" style="left:308px;top:33px">45352k</div>
<div class="t" style="left:384px;top:33px">45353k</div>
<div class="t" style="left:460px;top:33px">45354k</div>
<div class="t" style="left:535px;top:33px">45355k</div>
<div class="t" style="left:611px;top:33px">45356k</div>
<div class="t" style="left:686px;top:33px">45357k</div>
<div class="t" style="left:762px;top:33px">45358k</div>
<div class="t" style="left:838px;top:33px">45359k</div>
<div class="t b" style="left:60px;top:67px">Cytogenetic Bands</div>
<div class="t" style="left:61px;top:79px">13q14.13</div>
<div class="t b" style="left:60px;top:121px">DGV Structural Variants</div>
<div class="t" style="left:61px;top:133px">nsv5561330 (ByrskaBishop2022)</div>
<div class="t" style="left:61px;top:154px">nsv1046200 (Coe2014)</div>
<div class="t" style="left:278px;top:154px">esv3631951 (1000GenomesConsortiumPhase3)</div>
<div class="t" style="left:61px;top:175px">nsv6480388 (Sedlazeck2020)</div>
<div class="t" style="left:364px;top:175px">nsv5940962 (Almarri2020)</div>
<div class="t" style="left:61px;top:196px">nsv510579 (Teague2010)</div>
<div class="t" style="left:61px;top:217px">nsv4223886 (gnomADStructuralVariants)</div>
<div class="t" style="left:61px;top:238px">esv3580625 (Uddin2014)</div>
<div class="t" style="left:104px;top:259px">nsv6486538 (Sedlazeck2020)</div>
<div class="t" style="left:104px;top:280px">nsv4230858 (gnomADStructuralVariants)</div>
<div class="t" style="left:116px;top:301px">nsv3112128 (Lu2017)</div>
<div class="t" style="left:126px;top:322px">nsv6087595 (Wu2021)</div>
<div class="t" style="left:375px;top:322px">nsv5508332 (ByrskaBishop2022)</div>
<div class="t" style="left:178px;top:343px">nsv6478555 (Sedlazeck2020)</div>
<div class="t" style="left:396px;top:343px">nsv5863526 (Almarri2020)</div>
<div class="t" style="left:212px;top:364px">nsv6479144 (Sedlazeck2020)</div>
<div class="t" style="left:453px;top:385px">nsv6030838 (Wu2021)</div>
<div class="t" style="left:577px;top:385px">esv3403190 (1000GenomesConsortiumPilotProject)</div>
<div class="t" style="left:463px;top:406px">nsv6587683 (Sedlazeck2020)</div>
<div class="t" style="left:658px;top:406px">nsv6477338 (Sedlazeck2020)</div>
<div class="t" style="left:745px;top:427px">nsv5858988 (Almarri2020)</div>
<div class="t" style="left:793px;top:448px">nsv3214062 (Chaisson2019)</div>
<div class="t b" style="left:60px;top:504px">RefSeq Genes</div>
<div class="t" style="left:61px;top:516px">TPT1-AS1|NR_024458</div>
</div>
</body></html>
